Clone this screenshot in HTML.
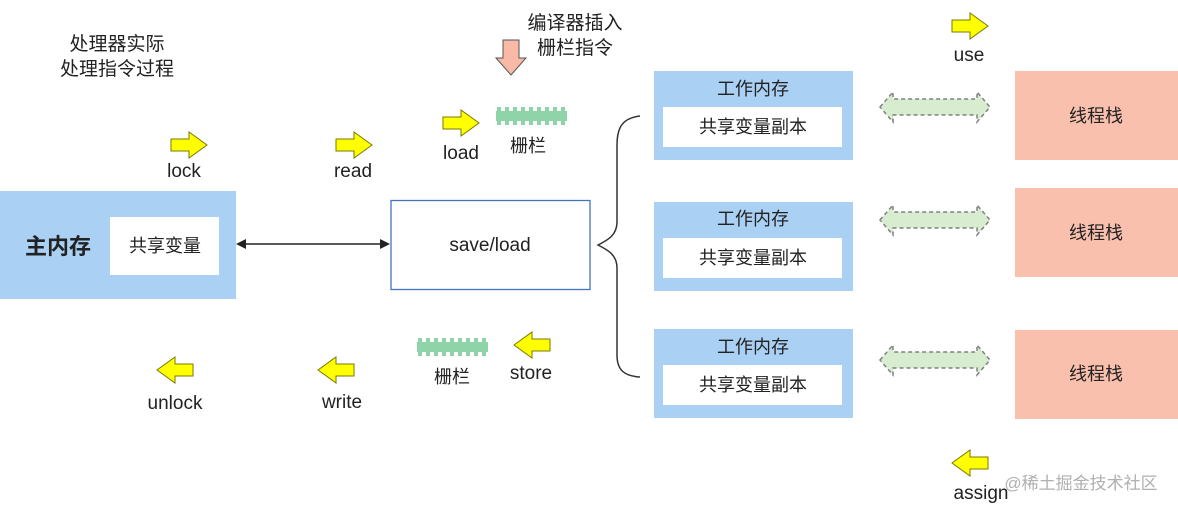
<!DOCTYPE html>
<html><head><meta charset="utf-8"><style>
html,body{margin:0;padding:0;background:#fff;}
svg{display:block;font-family:"Liberation Sans","Noto Sans CJK SC",sans-serif;}
</style></head><body>
<svg width="1178" height="509" viewBox="0 0 1178 509" xmlns="http://www.w3.org/2000/svg">
<defs>
<g id="ar"><path d="M0,-6 H18 V-13 L36,0 L18,13 V6 H0 Z" fill="#ffff00" stroke="#7a7a00" stroke-width="1"/></g>
<g id="dbl"><path d="M0,0 L13,-15 V-8 H97 V-15 L110,0 L97,15 V8 H13 V15 Z" fill="#d8ecd0" stroke="#808080" stroke-width="1.5" stroke-dasharray="4,3"/></g>
<g id="fence"><rect x="0" y="-5" width="71" height="10" fill="#8fd4a8"/>
<path d="M3,-9V9M11,-9V9M19,-9V9M27,-9V9M35,-9V9M43,-9V9M51,-9V9M59,-9V9M67,-9V9" stroke="#8fd4a8" stroke-width="4"/></g>
</defs>
<g fill="#222" font-size="19" text-anchor="middle">
<text x="117" y="50">处理器实际</text><text x="117" y="75">处理指令过程</text>
<text x="575" y="29">编译器插入</text><text x="575" y="54">栅栏指令</text>
</g>
<path d="M503,40 H519 V58 H526 L511,75 L496,58 H503 Z" fill="#f8b9a6" stroke="#555" stroke-width="1"/>
<rect x="0" y="191" width="236" height="108" fill="#aad1f4"/>
<rect x="110" y="217" width="109" height="58" fill="#fff"/>
<text x="58" y="254" font-size="22" font-weight="bold" text-anchor="middle" fill="#222">主内存</text>
<text x="165" y="252" font-size="18" text-anchor="middle" fill="#222">共享变量</text>
<line x1="244" y1="244" x2="382" y2="244" stroke="#222" stroke-width="1.5"/>
<path d="M236,244 L246,239 V249 Z M390,244 L380,239 V249 Z" fill="#222"/>
<rect x="391" y="200.5" width="199" height="89" fill="#fff" stroke="#4472c4" stroke-width="1.3"/>
<text x="490" y="251" font-size="19" text-anchor="middle" fill="#222">save/load</text>
<path d="M640,116 C622,118 617,128 617,145 V222 C617,235 608,240 598,245 C608,250 617,255 617,268 V355 C617,370 624,376 640,377" fill="none" stroke="#333" stroke-width="1.5"/>
<g font-size="18" text-anchor="middle" fill="#222">
<rect x="654" y="71" width="199" height="89" fill="#aad1f4"/><rect x="663" y="107" width="179" height="40" fill="#fff"/>
<text x="753" y="95">工作内存</text><text x="753" y="133">共享变量副本</text>
<rect x="654" y="202" width="199" height="89" fill="#aad1f4"/><rect x="663" y="238" width="179" height="40" fill="#fff"/>
<text x="753" y="225">工作内存</text><text x="753" y="264">共享变量副本</text>
<rect x="654" y="329" width="199" height="89" fill="#aad1f4"/><rect x="663" y="365" width="179" height="40" fill="#fff"/>
<text x="753" y="353">工作内存</text><text x="753" y="391">共享变量副本</text>
<rect x="1015" y="71" width="163" height="89" fill="#fac0ae"/><text x="1096" y="122">线程栈</text>
<rect x="1015" y="188" width="163" height="89" fill="#fac0ae"/><text x="1096" y="239">线程栈</text>
<rect x="1015" y="330" width="163" height="89" fill="#fac0ae"/><text x="1096" y="380">线程栈</text>
</g>
<use href="#dbl" x="880" y="107"/><use href="#dbl" x="880" y="220"/><use href="#dbl" x="880" y="360"/>
<use href="#ar" x="171" y="145"/><use href="#ar" x="336" y="145"/><use href="#ar" x="443" y="123"/><use href="#ar" x="952" y="26"/>
<use href="#ar" transform="translate(193,370) scale(-1,1)"/><use href="#ar" transform="translate(354,370) scale(-1,1)"/>
<use href="#ar" transform="translate(550,345) scale(-1,1)"/><use href="#ar" transform="translate(988,463) scale(-1,1)"/>
<use href="#fence" x="496" y="116"/><use href="#fence" x="417" y="347"/>
<g font-size="19" text-anchor="middle" fill="#222">
<text x="184" y="177">lock</text><text x="353" y="177">read</text><text x="461" y="159">load</text><text x="969" y="61">use</text>
<text x="175" y="409">unlock</text><text x="342" y="408">write</text><text x="531" y="379">store</text><text x="981" y="499">assign</text>
<text x="528" y="152" font-size="18">栅栏</text><text x="452" y="383" font-size="18">栅栏</text>
</g>
<text x="1081" y="489" font-size="17" text-anchor="middle" fill="#b0b0b0">@稀土掘金技术社区</text>
</svg>
</body></html>
